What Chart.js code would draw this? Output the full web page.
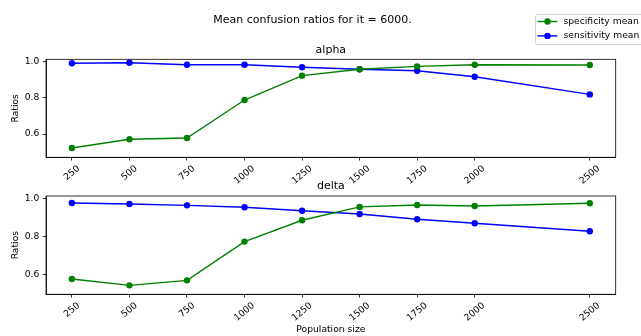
<!DOCTYPE html>
<html>
<head>
<meta charset="utf-8">
<script src="https://cdn.jsdelivr.net/npm/chart.js@4.4.1/dist/chart.umd.min.js"></script>
<style>
    body { margin: 0; background: #fff; width: 641px; height: 336px; overflow: hidden; position: relative; }
    canvas { position: absolute; left: 0; }
</style>
</head>
<body>
<canvas id="alphaChart" width="641" height="200" style="top:0"></canvas>
<canvas id="deltaChart" width="641" height="156" style="top:180px"></canvas>
<script>
// data
const populationSizes = [250, 500, 750, 1000, 1250, 1500, 1750, 2000, 2500];
const xTicks = [250, 500, 750, 1000, 1250, 1500, 1750, 2000, 2500];
const yTicks = [0.6, 0.8, 1.0];

const alphaSpecificity = [0.523, 0.571, 0.578, 0.787, 0.921, 0.956, 0.972, 0.981, 0.980];
const alphaSensitivity = [0.989, 0.992, 0.981, 0.981, 0.967, 0.956, 0.948, 0.915, 0.818];
const deltaSpecificity = [0.577, 0.544, 0.570, 0.773, 0.885, 0.955, 0.965, 0.960, 0.974];
const deltaSensitivity = [0.975, 0.970, 0.963, 0.953, 0.935, 0.918, 0.890, 0.869, 0.827];

const FONT = "'DejaVu Sans', sans-serif";
const GREEN = '#008000';
const BLUE = '#0000ff';

function toPoints(values) {
    return populationSizes.map((x, i) => ({ x: x, y: values[i] }));
}

function series(label, values, color) {
    return {
        label: label,
        data: toPoints(values),
        borderColor: color,
        backgroundColor: color,
        borderWidth: 1.4,
        pointRadius: 3.2,
        pointBorderWidth: 0,
        pointHoverRadius: 3.2,
        tension: 0
    };
}

// frame, rotated x tick labels and texts, matplotlib style
const framePlugin = {
    id: 'frame',
    afterDraw(chart, args, opts) {
        const ctx = chart.ctx;
        const a = chart.chartArea;
        ctx.save();
        ctx.strokeStyle = '#000';
        ctx.lineWidth = 0.8;
        ctx.strokeRect(a.left, a.top, a.right - a.left, a.bottom - a.top);

        // x tick labels, rotated 40 deg and centered on the tick
        const xs = chart.scales.x;
        ctx.fillStyle = '#000';
        ctx.font = '9.2px ' + FONT;
        ctx.textAlign = 'center';
        ctx.textBaseline = 'middle';
        const ang = 40 * Math.PI / 180;
        xTicks.forEach(v => {
            const label = String(v);
            const w = ctx.measureText(label).width;
            const h = 9.2;
            const bh = w * Math.sin(ang) + h * Math.cos(ang);
            const px = xs.getPixelForValue(v);
            const py = a.bottom + 6.6 + bh / 2;
            ctx.save();
            ctx.translate(px, py);
            ctx.rotate(-ang);
            ctx.fillText(label, 0, 0);
            ctx.restore();
        });

        // subplot title
        ctx.font = '11px ' + FONT;
        ctx.fillText(opts.title, (a.left + a.right) / 2, a.top - 9.5);

        // y label
        ctx.font = '9.2px ' + FONT;
        ctx.save();
        ctx.translate(16, (a.top + a.bottom) / 2);
        ctx.rotate(-Math.PI / 2);
        ctx.fillText('Ratios', 0, 0);
        ctx.restore();

        if (opts.xlabel) {
            ctx.fillText(opts.xlabel, (a.left + a.right) / 2, 150);
        }

        if (opts.suptitle) {
            ctx.font = '11px ' + FONT;
            ctx.fillText(opts.suptitle, 312.5, 20.5);
        }

        if (opts.legend) {
            // legend box top right
            ctx.beginPath();
            ctx.roundRect(535.5, 14.5, 120, 30, 2);
            ctx.fillStyle = 'rgba(255,255,255,0.8)';
            ctx.fill();
            ctx.strokeStyle = '#cccccc';
            ctx.lineWidth = 0.8;
            ctx.stroke();
            chart.data.datasets.forEach((ds, i) => {
                const y = 21.5 + i * 14.4;
                ctx.strokeStyle = ds.borderColor;
                ctx.lineWidth = 1.4;
                ctx.beginPath();
                ctx.moveTo(537.5, y);
                ctx.lineTo(557.5, y);
                ctx.stroke();
                ctx.fillStyle = ds.borderColor;
                ctx.beginPath();
                ctx.arc(547.5, y, 3.2, 0, Math.PI * 2);
                ctx.fill();
                ctx.fillStyle = '#000';
                ctx.font = '9.2px ' + FONT;
                ctx.textAlign = 'left';
                ctx.fillText(ds.label, 563.5, y);
            });
        }
        ctx.restore();
    }
};

function makeChart(id, spec, sens, cfg) {
    return new Chart(document.getElementById(id), {
        type: 'line',
        data: {
            datasets: [
                series('specificity mean', spec, GREEN),
                series('sensitivity mean', sens, BLUE)
            ]
        },
        options: {
            responsive: false,
            animation: false,
            events: [],
            layout: { padding: { top: cfg.top, right: 25.3, left: 0, bottom: 0 } },
            plugins: {
                legend: { display: false },
                title: { display: false },
                tooltip: { enabled: false },
                frame: cfg
            },
            scales: {
                x: {
                    type: 'linear',
                    min: 137.5,
                    max: 2612.5,
                    afterBuildTicks: s => { s.ticks = xTicks.map(v => ({ value: v })); },
                    afterFit: s => { s.height = cfg.xHeight; },
                    grid: { display: true, drawOnChartArea: false, drawTicks: true, tickLength: 3.2, color: '#000', lineWidth: 0.8 },
                    border: { display: true, color: '#000', width: 0.8 },
                    ticks: { display: false }
                },
                y: {
                    min: cfg.ymin,
                    max: cfg.ymax,
                    afterBuildTicks: s => { s.ticks = yTicks.map(v => ({ value: v })); },
                    afterFit: s => { s.width = 46; },
                    grid: { display: true, drawOnChartArea: false, drawTicks: true, tickLength: 3.2, color: '#000', lineWidth: 0.8 },
                    border: { display: true, color: '#000', width: 0.8 },
                    ticks: {
                        padding: 3.5,
                        color: '#000',
                        font: { family: FONT, size: 9.2 },
                        callback: v => v.toFixed(1)
                    }
                }
            }
        },
        plugins: [framePlugin]
    });
}

makeChart('alphaChart', alphaSpecificity, alphaSensitivity, {
    title: 'alpha', suptitle: 'Mean confusion ratios for it = 6000.', legend: true,
    top: 59.3, xHeight: 42.7, ymin: 0.472, ymax: 1.011
});
makeChart('deltaChart', deltaSpecificity, deltaSensitivity, {
    title: 'delta', xlabel: 'Population size', legend: false,
    top: 16, xHeight: 41.7, ymin: 0.497, ymax: 1.012
});
</script>
</body>
</html>
